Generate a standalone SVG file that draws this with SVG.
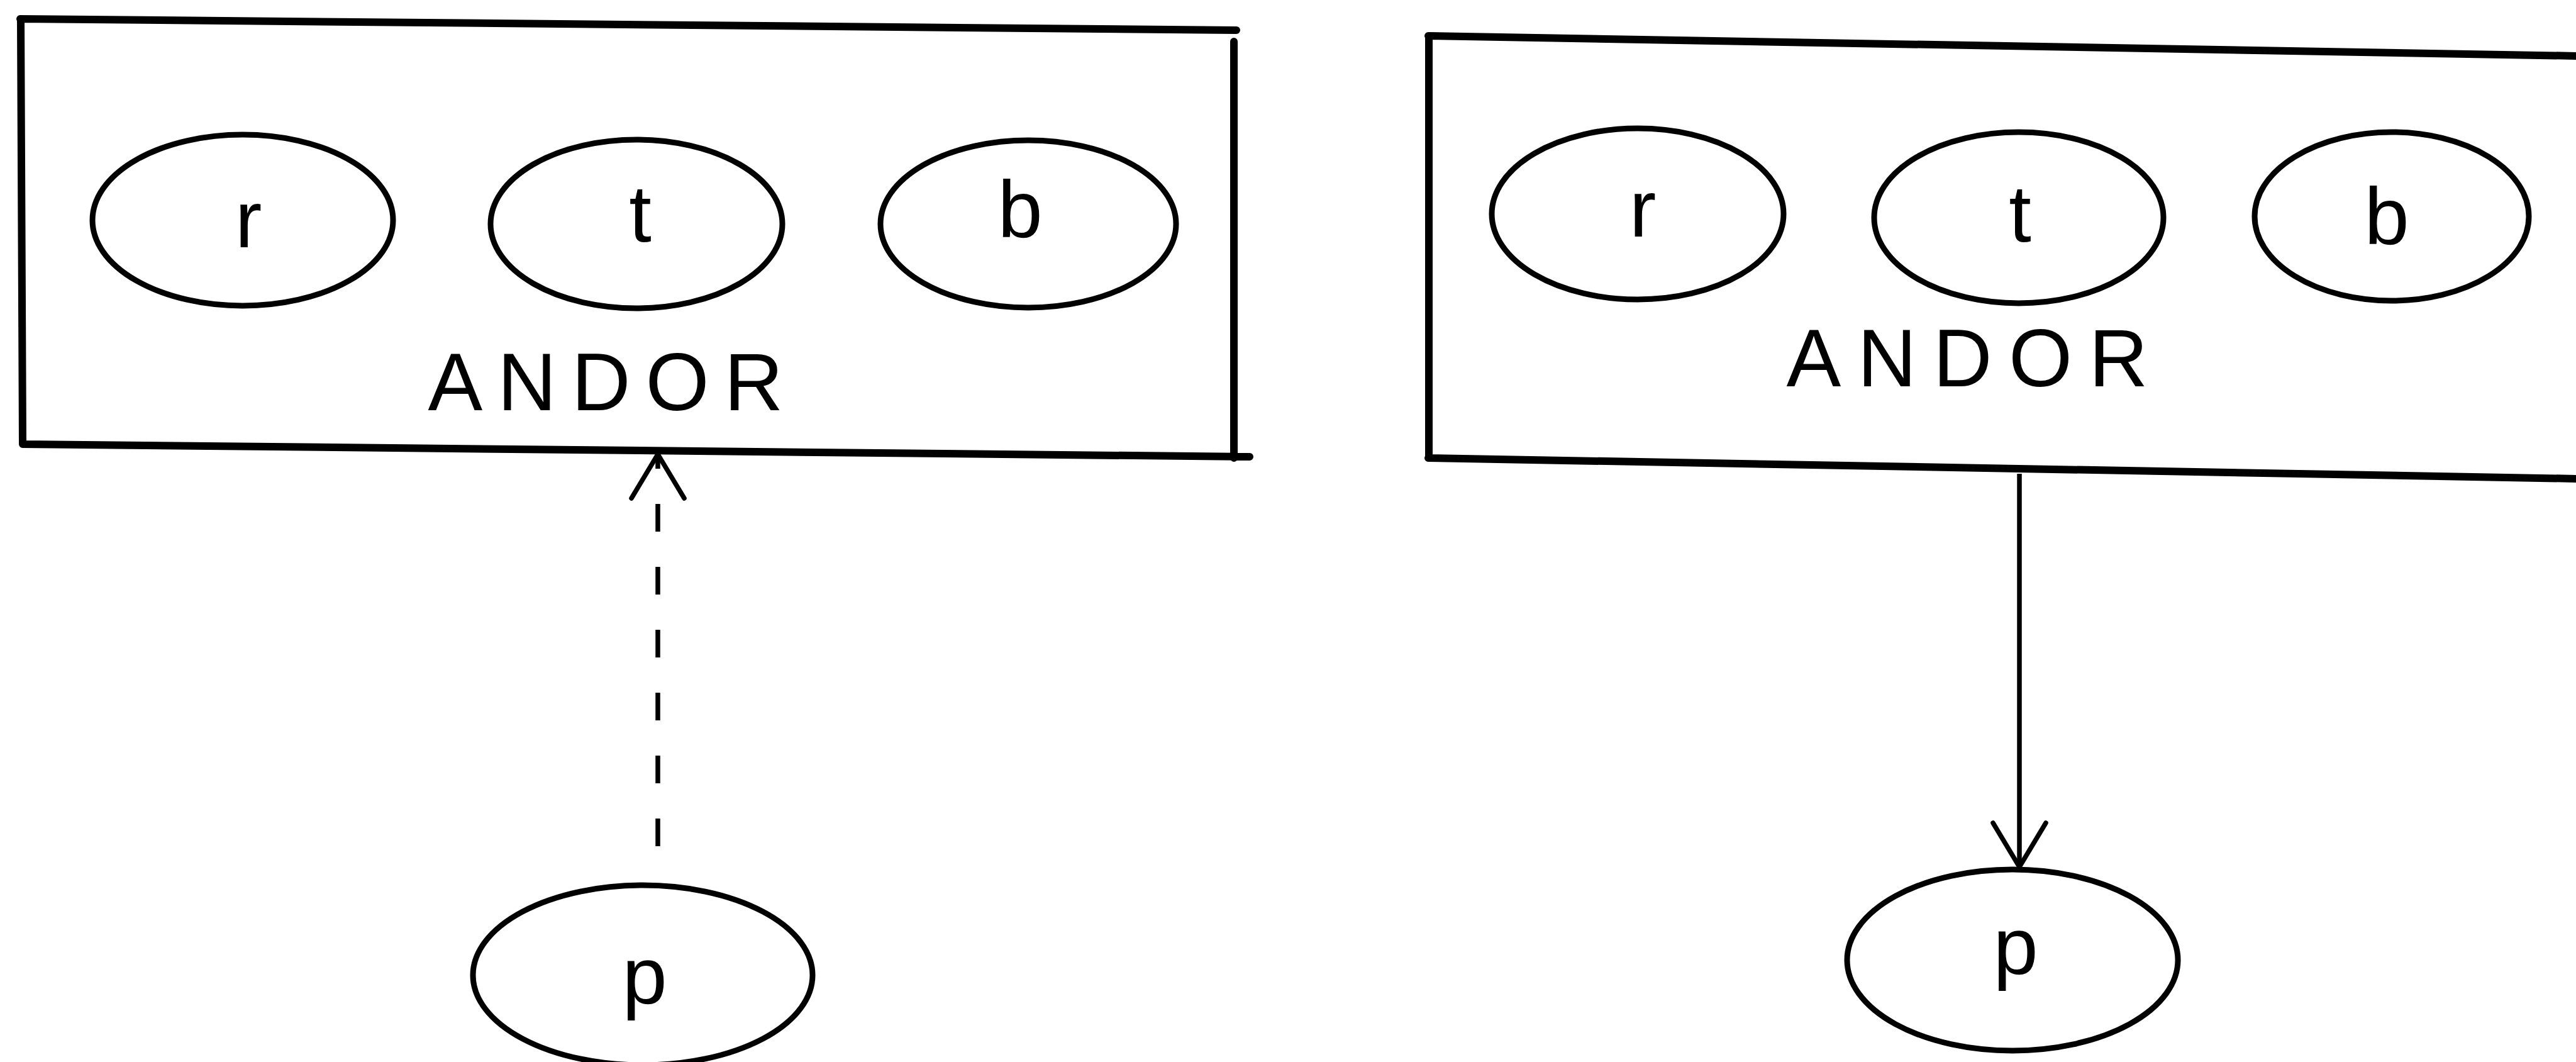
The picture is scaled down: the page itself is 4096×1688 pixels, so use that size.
<svg xmlns="http://www.w3.org/2000/svg" width="4096" height="1688" viewBox="0 0 4096 1688">
<style>
.frame{fill:none;stroke:#000;stroke-width:12;stroke-linecap:round;stroke-linejoin:round}
.oval{fill:none;stroke:#000;stroke-width:9}
.lbl{font-family:"Liberation Sans",Arial,sans-serif;font-size:128px;fill:#000;text-anchor:middle}
.cap{font-family:"Liberation Sans",Arial,sans-serif;font-size:130px;fill:#000;text-anchor:middle}
.edge{fill:none;stroke:#000;stroke-width:7.5}
.dash{stroke-dasharray:44 56}
</style>
<defs>
<marker id="vee" markerUnits="userSpaceOnUse" orient="auto" refX="0" refY="0" markerWidth="1" markerHeight="1" overflow="visible">
<path d="M-70,-42 L0,0 L-70,42" fill="none" stroke="#000" stroke-width="7.5" stroke-linecap="round" stroke-linejoin="miter"/>
</marker>
</defs>
<rect width="4096" height="1688" fill="#fff"/>
<g id="left-andor">
<path class="frame" d="M32,30 L1966,48 M1962,66 L1962,728 M36,706 L1987,726 M33,30 L36,706"/>
<text class="cap" x="963" y="652" textLength="565" lengthAdjust="spacing">ANDOR</text>
</g>
<g id="left-r"><ellipse class="oval" cx="386" cy="350" rx="239" ry="136"/><text class="lbl" x="395" y="393">r</text></g>
<g id="left-t"><ellipse class="oval" cx="1012" cy="356" rx="232" ry="134"/><text class="lbl" x="1018" y="384">t</text></g>
<g id="left-b"><ellipse class="oval" cx="1635" cy="356" rx="235" ry="133"/><text class="lbl" x="1622" y="377">b</text></g>
<g id="left-p"><ellipse class="oval" cx="1022" cy="1550" rx="270" ry="143"/><text class="lbl" x="1025" y="1595">p</text></g>
<g id="right-andor">
<path class="frame" d="M2271,57 L4100,89 M2272,57 L2272,728 M2271,728 L4100,761"/>
<text class="cap" x="3128" y="614" textLength="575" lengthAdjust="spacing">ANDOR</text>
</g>
<g id="right-r"><ellipse class="oval" cx="2604" cy="340" rx="232" ry="136"/><text class="lbl" x="2612" y="376">r</text></g>
<g id="right-t"><ellipse class="oval" cx="3210" cy="346" rx="230" ry="136"/><text class="lbl" x="3212" y="384">t</text></g>
<g id="right-b"><ellipse class="oval" cx="3803" cy="344" rx="218" ry="134"/><text class="lbl" x="3795" y="388">b</text></g>
<g id="right-p"><ellipse class="oval" cx="3200" cy="1526" rx="263" ry="144"/><text class="lbl" x="3205" y="1548">p</text></g>
<g id="connectors">
<path class="edge dash" d="M1046,1345 L1046,722" marker-end="url(#vee)"/>
<path class="edge" d="M3211,753 L3211,1378" marker-end="url(#vee)"/>
</g>
</svg>
